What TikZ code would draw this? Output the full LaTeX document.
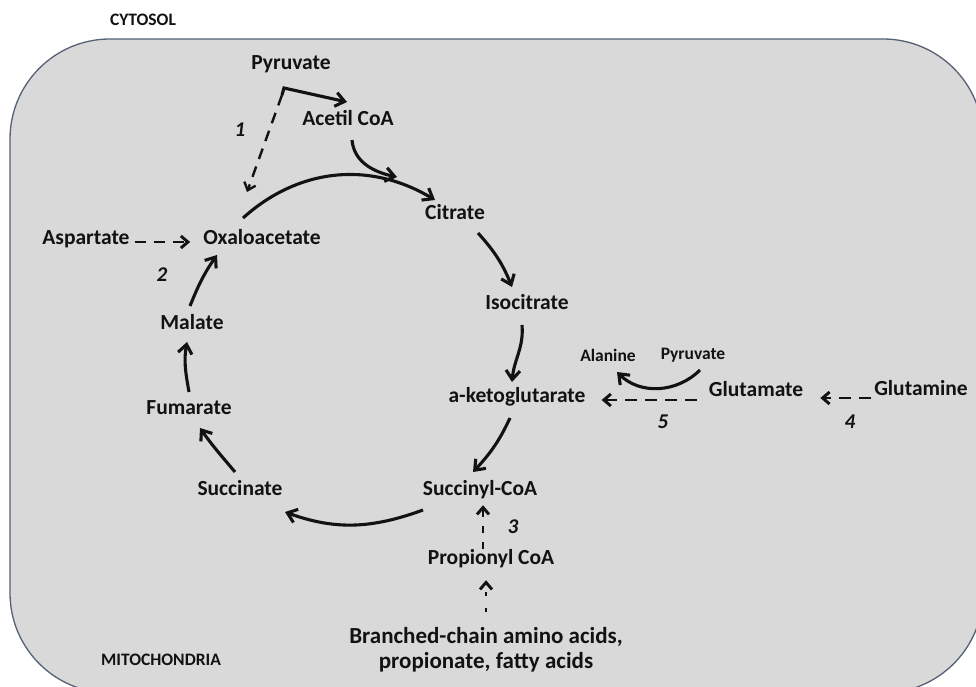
\documentclass[tikz,border=0pt]{standalone}
\usepackage{fontspec}
\setmainfont{Carlito}
\usepackage{xcolor}
\usepackage{tikz}
\usetikzlibrary{arrows.meta}

\definecolor{mitofill}{RGB}{217,217,217}
\definecolor{mitoedge}{RGB}{84,96,116}
\definecolor{ink}{RGB}{18,18,18}

\begin{document}
\begin{tikzpicture}[x=1pt, y=1pt,
  met/.style={font=\fontsize{21.5}{24}\selectfont\bfseries, text=ink, inner sep=1pt, text height=0.75em, text depth=0.25em},
  source/.style={font=\fontsize{23}{25}\selectfont\bfseries, text=ink, inner sep=1pt, align=center},
  minor/.style={font=\fontsize{17.5}{20}\selectfont\bfseries, text=ink, inner sep=1pt},
  step num/.style={font=\fontsize{21}{24}\selectfont\bfseries\itshape, text=ink},
  arr/.style={line width=3.1pt, draw=ink, -{Straight Barb[length=9pt,width=14pt]}},
  darr/.style={arr, line width=2.9pt, dash pattern=on 11pt off 8pt, -{Straight Barb[length=7pt,width=12pt]}}
]
\useasboundingbox (0,0) rectangle (976,-687);
\clip (0,0) rectangle (976,-687);

% mitochondrion
\draw[fill=mitofill, draw=mitoedge, line width=1.3pt, rounded corners=100pt] (10,-39) rectangle (983,-693);
\node[minor] (cyt)  at (143,-20)  {CYTOSOL};
\node[minor] (mito) at (161,-660) {MITOCHONDRIA};

% cycle
\node[met] (pyr)  at (291,-67)  {Pyruvate};
\node[met] (acc)  at (348,-123) {Acetil CoA};
\node[met] (cit)  at (455,-217) {Citrate};
\node[met] (iso)  at (527,-307) {Isocitrate};
\node[met] (akg)  at (517,-400) {a-ketoglutarate};
\node[met] (suc)  at (480,-493) {Succinyl-CoA};
\node[met] (sct)  at (240,-493) {Succinate};
\node[met] (fum)  at (189,-412) {Fumarate};
\node[met] (mal)  at (192,-327) {Malate};
\node[met] (oxa)  at (262,-242) {Oxaloacetate};

% anaplerotic inputs
\node[met] (asp)  at (86,-242)  {Aspartate};
\node[met] (prop) at (491,-562) {Propionyl CoA};
\node[source] (bcaa) at (486,-650) {Branched-chain amino acids,\\propionate, fatty acids};
\node[met] (glu)  at (756,-394) {Glutamate};
\node[met] (gln)  at (921,-393) {Glutamine};
\node[minor] (ala)  at (608,-355) {Alanine};
\node[minor] (pyr2) at (693,-355) {Pyruvate};

\node[step num] (n1) at (240,-130) {1};
\node[step num] (n2) at (162,-275) {2};
\node[step num] (n3) at (513,-527) {3};
\node[step num] (n4) at (850,-422) {4};
\node[step num] (n5) at (663,-422) {5};

\coordinate (fork) at ([shift={(-9,-28)}]pyr.center);
\draw[arr] (fork) -- ++(2,7) -- ([shift={(-1,21)}]acc.center);
\draw[darr, line width=2.4pt] (fork) -- ([shift={(-15,50)}]oxa.center);
\draw[arr] ([shift={(4,-17)}]acc.center) to[out=-85,in=168] ([shift={(-58,40)}]cit.center);

\draw[arr] ([shift={(-19,24)}]oxa.center) to[out=42,in=149] ([shift={(-20,17)}]cit.center);
\draw[arr] ([shift={(23,-16)}]cit.center) to[out=-48,in=112] ([shift={(-15,20)}]iso.center);
\draw[arr] ([shift={(-5,-18)}]iso.center) to[out=-85,in=85] ([shift={(-5,18)}]akg.center);
\draw[arr] ([shift={(-7,-18)}]akg.center) to[out=-115,in=47] ([shift={(-7,21)}]suc.center);
\draw[arr] ([shift={(-57,-17)}]suc.center) to[out=-160,in=-20] ([shift={(45,-19)}]sct.center);
\draw[arr] ([shift={(-5,21)}]sct.center) to[out=130,in=-55] ([shift={(11,-16)}]fum.center);
\draw[arr] ([shift={(0,20)}]fum.center) to[out=100,in=-100] ([shift={(-5,-15)}]mal.center);
\draw[arr] ([shift={(-2,21)}]mal.center) to[out=68,in=-125] ([shift={(-45,-13)}]oxa.center);

\draw[darr, shorten <=4pt, shorten >=12pt] (asp.east) -- (oxa.west);
\draw[darr, dash pattern=on 7pt off 9pt, shorten <=7pt, shorten >=6pt] ([xshift=-8]prop.north) -- ([xshift=3]suc.south);
\draw[darr, dash pattern=on 4pt off 12pt, shorten <=14pt, shorten >=12pt] (bcaa.north) -- ([xshift=-5]prop.south);
\draw[darr, dash pattern=on 12pt off 8pt, shorten <=11pt, shorten >=15pt] ([yshift=-6]glu.west) -- (akg.east);
\draw[darr, dash pattern=on 12pt off 8pt, shorten <=2pt, shorten >=16pt] ([yshift=-5]gln.west) -- ([yshift=-4]glu.east);
\draw[arr] ([shift={(7,-15)}]pyr2.center) to[out=-135,in=-45] ([shift={(9,-17)}]ala.center);

\end{tikzpicture}
\end{document}
